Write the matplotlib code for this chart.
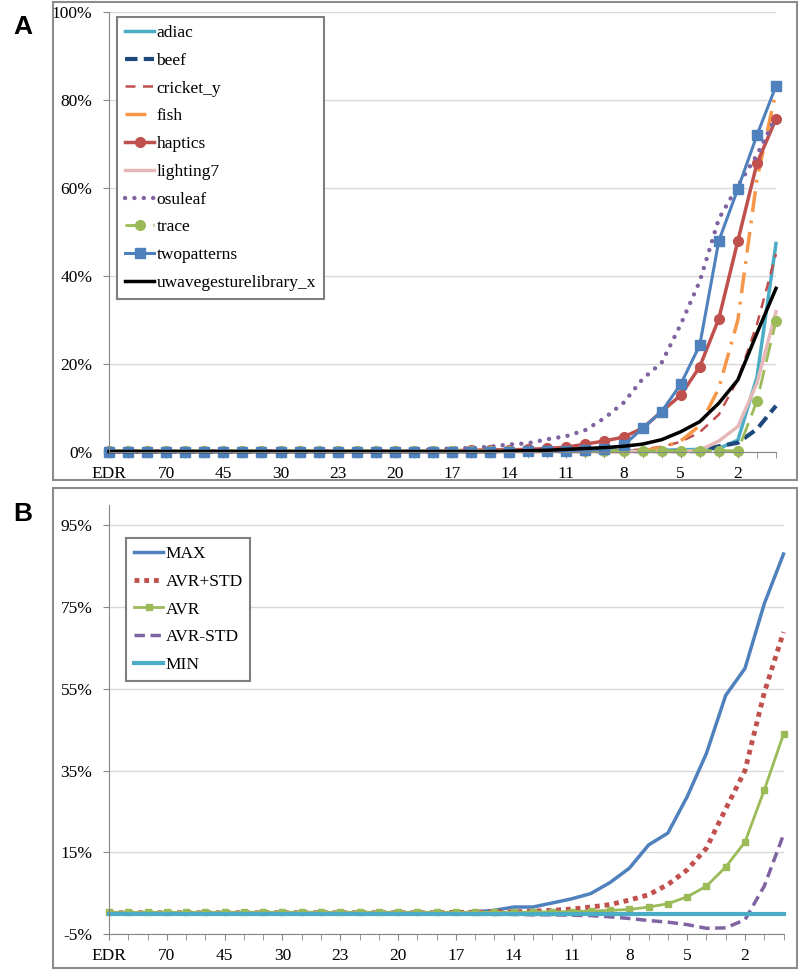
import numpy as np
import matplotlib.pyplot as plt
from matplotlib.patches import Rectangle

# category axis (only every third label is shown on the chart)
categories = ["EDR", "100", "90", "70", "60", "50", "45", "40", "35", "30", "27", "25",
              "23", "22", "21", "20", "19", "18", "17", "16", "15", "14", "13", "12",
              "11", "10", "9", "8", "7", "6", "5", "4", "3", "2", "1", "0"]

# panel A values (%)
adiac = [0.2] * 28 + [0.3, 0.4, 0.5, 0.6, 0.8, 2.7, 17.0, 47.4]
beef = [0.2] * 32 + [1.3, 2.1, 5.2, 10.5]
cricket_y = [0.1] * 27 + [0.3, 0.6, 1.2, 2.3, 4.5, 8.5, 16.5, 29.0, 45.0]
fish = [0.1] * 28 + [0.3, 1.0, 2.5, 6.0, 14.5, 30.0, 62.0, 82.0]
haptics = [0.2] * 18 + [0.3, 0.4, 0.5, 0.5, 0.6, 0.8, 1.1, 1.8, 2.5, 3.4, 5.4, 9.2,
                        12.9, 19.4, 30.3, 48.0, 65.6, 75.7]
lighting7 = [0.1] * 31 + [0.4, 2.5, 5.8, 15.6, 31.9]
osuleaf = [0.1] * 16 + [0.3, 0.6, 0.8, 0.9, 1.2, 1.7, 2.0, 2.9, 3.6, 5.0, 7.7, 11.2,
                        16.6, 20.3, 29.0, 38.8, 53.0, 60.5, 67.5, 76.2]
trace = [0.3] * 34 + [11.6, 29.8]
twopatterns = [0.1] * 22 + [0.2, 0.2, 0.3, 0.4, 0.6, 1.5, 5.4, 9.2, 15.4, 24.3,
                            48.0, 59.8, 72.0, 83.2]
uwave = [0.1] * 21 + [0.2, 0.3, 0.4, 0.6, 0.8, 1.0, 1.3, 1.8, 2.8, 4.6, 6.9, 11.1,
                      16.4, 27.0, 37.2]

# panel B values (%)
v_max = [0.0] * 19 + [0.4, 0.8, 1.6, 1.6, 2.6, 3.6, 4.9, 7.6, 11.1, 16.8, 19.7, 28.6,
                      39.2, 53.4, 60.0, 75.8, 88.0]
v_avr_p = [0.2] * 18 + [0.3, 0.3, 0.4, 0.4, 0.6, 0.8, 1.1, 1.6, 2.2, 3.3, 4.6, 7.1,
                        10.7, 16.0, 25.6, 35.0, 54.0, 68.9]
v_avr = [0.3] * 22 + [0.4, 0.4, 0.5, 0.6, 0.8, 1.0, 1.6, 2.4, 4.1, 6.7, 11.4, 17.5,
                      30.2, 43.9]
v_avr_m = [-0.1] * 19 + [-0.2, -0.2, -0.2, -0.3, -0.3, -0.4, -0.5, -0.8, -1.2, -1.7,
                         -2.1, -2.7, -3.6, -3.5, -1.5, 6.7, 19.3]
v_min = [0.0] * 36

x = np.arange(len(categories))
W, H = 798, 972
serif = "Liberation Serif"
fs = 12.5

fig = plt.figure(figsize=(W / 100, H / 100), dpi=100)


def fx(px):
    return px / W


def fy(py):
    return 1 - py / H


def style_axis(ax, yticks, ylabels, ylim):
    ax.set_xlim(0, 35)
    ax.set_ylim(*ylim)
    ax.set_xticks(x[::3])
    ax.set_xticklabels(categories[::3], fontfamily=serif, fontsize=fs)
    ax.set_xticks(x, minor=True)
    ax.set_yticks(yticks)
    ax.set_yticklabels(ylabels, fontfamily=serif, fontsize=fs)
    for s in ["top", "right"]:
        ax.spines[s].set_visible(False)
    for s in ["left", "bottom"]:
        ax.spines[s].set_color("#868686")
    ax.tick_params(axis="x", which="both", length=4, color="#868686", pad=6)
    ax.tick_params(axis="y", length=4, color="#868686", pad=8)
    ax.yaxis.grid(True, color="#d9d9d9", lw=1)
    ax.set_axisbelow(True)


def add_legend(ax, left, top):
    leg = ax.legend(loc="upper left", bbox_to_anchor=(fx(left), fy(top)),
                    bbox_transform=fig.transFigure, borderaxespad=0,
                    prop={"family": serif, "size": fs}, handlelength=1.7, handletextpad=0.12,
                    labelspacing=0.67, borderpad=0.45, fancybox=False, framealpha=1)
    leg.get_frame().set_edgecolor("#7f7f7f")
    leg.get_frame().set_linewidth(1.5)
    return leg


# panel frames
for top, bot in [(2, 480), (488, 968)]:
    fig.patches.append(Rectangle((fx(53), fy(bot)), fx(797) - fx(53), fy(top) - fy(bot),
                                 transform=fig.transFigure, fill=False,
                                 edgecolor="#8c8c8c", lw=1.5))
fig.text(fx(13), fy(27), "A", fontsize=19, fontweight="bold", family="Liberation Sans", va="center")
fig.text(fx(13), fy(514), "B", fontsize=19, fontweight="bold", family="Liberation Sans", va="center")

# ---- panel A
axA = fig.add_axes([fx(109), fy(452), fx(776) - fx(109), fy(12) - fy(452)])
style_axis(axA, [0, 20, 40, 60, 80, 100], ["0%", "20%", "40%", "60%", "80%", "100%"], (0, 100))

axA.plot(x, adiac, color="#4BACC6", lw=2.5, label="adiac", clip_on=False)
axA.plot(x, beef, color="#1F497D", lw=3, ls=(0, (3, 1.5)), label="beef", clip_on=False)
axA.plot(x, cricket_y, color="#C0504D", lw=1.8, ls=(0, (4, 3)), label="cricket_y", clip_on=False)
axA.plot(x, fish, color="#F79646", lw=2.5, ls=(0, (6, 2.5, 0.8, 2.5)), label="fish", clip_on=False)
axA.plot(x, haptics, color="#C0504D", lw=2.5, marker="o", ms=7, label="haptics", clip_on=False)
axA.plot(x, lighting7, color="#E6B9B8", lw=2.5, label="lighting7", clip_on=False)
axA.plot(x, osuleaf, color="#8064A2", lw=3.2, ls=(0, (0.01, 2.1)), dash_capstyle="round",
         label="osuleaf", clip_on=False)
axA.plot(x, trace, color="#9BBB59", lw=2, ls=(0, (7, 3)), marker="o", ms=7, label="trace", clip_on=False)
axA.plot(x, twopatterns, color="#4F81BD", lw=2.2, marker="s", ms=6.5, label="twopatterns", clip_on=False)
axA.plot(x, uwave, color="black", lw=2.5, label="uwavegesturelibrary_x", clip_on=False)
add_legend(axA, 117, 17)

# ---- panel B
axB = fig.add_axes([fx(109), fy(934), fx(783.5) - fx(109), fy(505) - fy(934)])
style_axis(axB, [-5, 15, 35, 55, 75, 95], ["-5%", "15%", "35%", "55%", "75%", "95%"], (-5, 100))

axB.plot(x, v_max, color="#4F81BD", lw=2.5, label="MAX", clip_on=False)
axB.plot(x, v_avr_p, color="#C0504D", lw=3.5, ls=(0, (1, 1)), label="AVR+STD", clip_on=False)
axB.plot(x, v_avr, color="#9BBB59", lw=2, marker="s", ms=4.5, label="AVR", clip_on=False)
axB.plot(x, v_avr_m, color="#8064A2", lw=2.5, ls=(0, (3, 1.6)), label="AVR-STD", clip_on=False)
axB.plot(x, v_min, color="#4BACC6", lw=3, label="MIN", clip_on=False)
add_legend(axB, 126, 538)

plt.savefig("out.png", dpi=100)
